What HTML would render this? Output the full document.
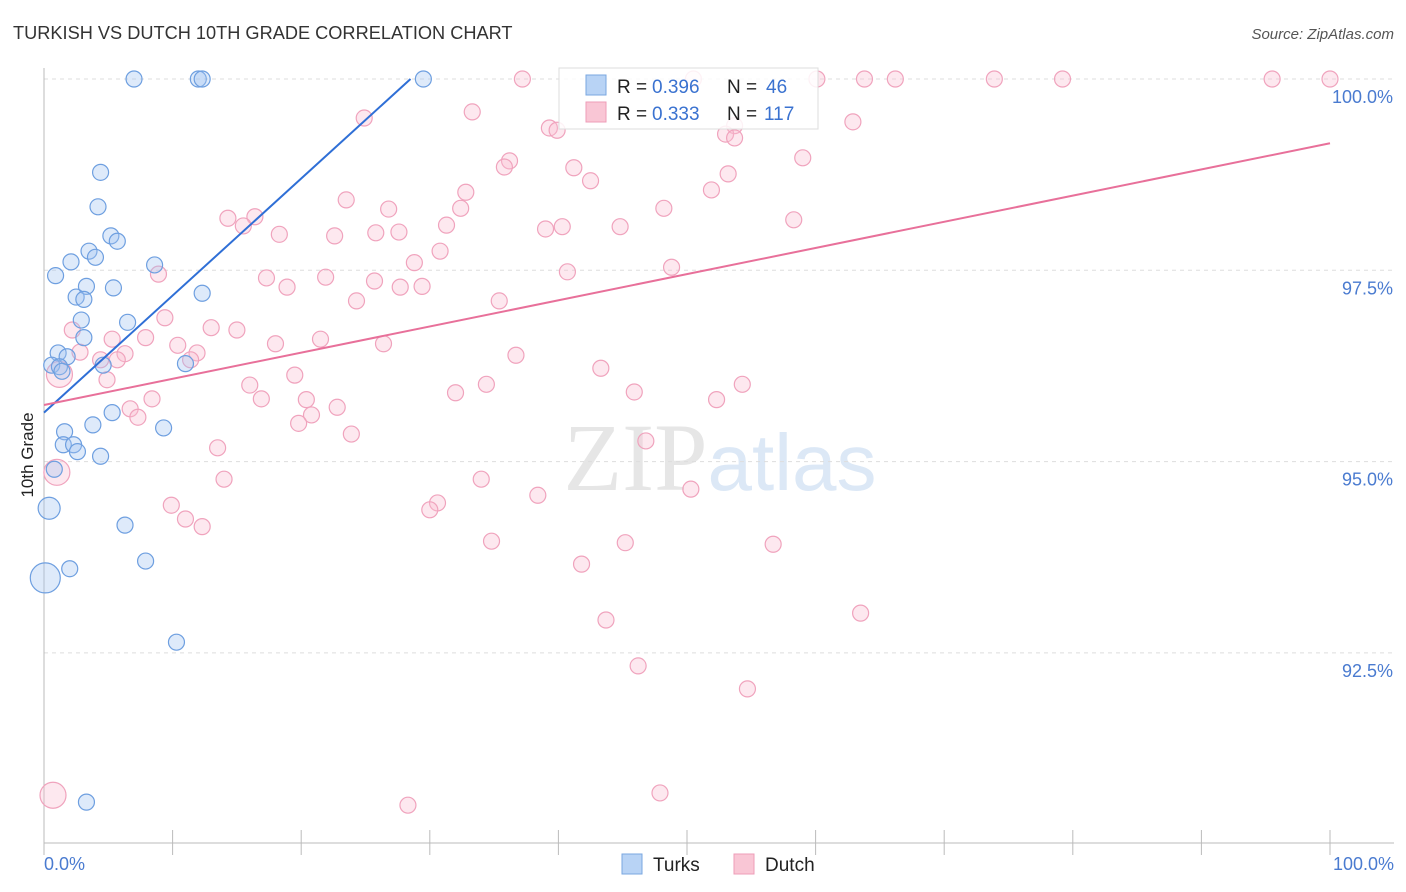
<!DOCTYPE html>
<html><head><meta charset="utf-8"><style>
body{margin:0;background:#fff;font-family:"Liberation Sans",sans-serif;}
</style></head><body>
<svg id="chart" width="1406" height="892" xmlns="http://www.w3.org/2000/svg" style="display:block">
<text x="13" y="39" font-size="18.2" fill="#333">TURKISH VS DUTCH 10TH GRADE CORRELATION CHART</text>
<text x="1394" y="39" font-size="15" fill="#555" text-anchor="end" font-style="italic">Source: ZipAtlas.com</text>
<text x="720" y="490" font-size="96" text-anchor="middle" fill="#e6e6e6" font-family="Liberation Serif,serif">ZIP<tspan fill="#dce8f6" font-family="Liberation Sans,sans-serif" font-size="80">atlas</tspan></text>
<g id="grid"></g><g id="marks"></g><g id="lines"></g>
<text transform="translate(33,455) rotate(-90)" font-size="17" fill="#222" text-anchor="middle">10th Grade</text>
<g>
<rect x="559" y="68" width="259" height="61" fill="#fff" fill-opacity="0.85" stroke="#ddd"/>
<rect x="586" y="75" width="20" height="20" fill="#b8d3f5" stroke="#7aa7e0"/>
<rect x="586" y="102" width="20" height="20" fill="#f9c6d5" stroke="#ee9db8"/>
<text x="617" y="93" font-size="19" fill="#222">R =</text>
<text x="652" y="93" font-size="19" fill="#3a72d0">0.396</text>
<text x="727" y="93" font-size="19" fill="#222">N =</text>
<text x="766" y="93" font-size="19" fill="#3a72d0">46</text>
<text x="617" y="120" font-size="19" fill="#222">R =</text>
<text x="652" y="120" font-size="19" fill="#3a72d0">0.333</text>
<text x="727" y="120" font-size="19" fill="#222">N =</text>
<text x="764" y="120" font-size="19" fill="#3a72d0">117</text>
</g>
<g>
<rect x="622" y="854" width="20" height="20" fill="#b8d3f5" stroke="#7aa7e0"/>
<text x="653" y="871" font-size="19" fill="#222">Turks</text>
<rect x="734" y="854" width="20" height="20" fill="#f9c6d5" stroke="#ee9db8"/>
<text x="765" y="871" font-size="19" fill="#222">Dutch</text>
</g>
</svg>
<script>
const yTicks=[100,97.5,95,92.5];
const yTickLabels=["100.0%","97.5%","95.0%","92.5%"];
const xTickLabels=["0.0%","100.0%"];
const turksX=[7.0,12.0,12.3,29.5,4.4,4.2,5.2,5.7,3.5,4.0,2.1,0.9,8.6,5.4,3.3,2.5,3.1,12.3,6.5,2.9,3.1,1.1,1.8,0.6,1.2,1.4,11.0,4.6,5.3,3.8,9.3,1.6,1.5,2.3,2.6,4.4,0.8,0.4,6.3,0.1,2.0,7.9,10.3,3.3];
const turksY=[100,100,100,100,98.78,98.33,97.95,97.88,97.75,97.67,97.61,97.43,97.57,97.27,97.29,97.15,97.12,97.20,96.82,96.85,96.62,96.42,96.37,96.26,96.24,96.18,96.28,96.26,95.64,95.48,95.44,95.39,95.22,95.22,95.13,95.07,94.90,94.39,94.17,93.48,93.60,93.70,92.64,90.55];
const turksR=[8,8,8,8,8,8,8,8,8,8,8,8,8,8,8,8,8,8,8,8,8,8,8,8,8,8,8,8,8,8,8,8,8,8,8,8,8,11,8,15,8,8,8,8];
const dutchX=[37.2,50.5,60.1,63.8,66.2,73.9,79.2,95.5,100,33.3,24.9,39.3,39.9,53.7,53.0,53.7,62.9,59.0,36.2,35.8,41.2,42.5,53.2,51.9,32.8,23.5,32.4,26.8,48.2,58.3,14.3,16.4,15.5,31.3,39.0,40.3,44.8,18.3,22.6,25.8,27.6,30.8,28.8,8.9,40.7,48.8,17.3,21.9,25.7,18.9,27.7,29.4,24.3,35.4,9.4,2.2,13.0,15.0,7.9,5.3,21.5,10.4,18.0,26.4,11.9,11.4,2.8,6.3,4.4,5.7,36.7,1.2,43.3,19.5,4.9,54.3,16.0,34.4,45.9,32.0,8.4,16.9,20.4,52.3,6.7,7.3,22.8,20.8,19.8,23.9,46.8,13.5,1.0,14.0,34.0,30.6,30.0,50.3,38.4,9.9,11.0,12.3,34.8,45.2,56.7,41.8,43.7,63.5,46.2,54.7,0.7,47.9,28.3];
const dutchY=[100,100,100,100,100,100,100,100,100,99.57,99.49,99.36,99.33,99.39,99.28,99.23,99.44,98.97,98.93,98.85,98.84,98.67,98.76,98.55,98.52,98.42,98.31,98.30,98.31,98.16,98.18,98.20,98.08,98.09,98.04,98.07,98.07,97.97,97.95,97.99,98.00,97.75,97.60,97.45,97.48,97.54,97.40,97.41,97.36,97.28,97.28,97.29,97.10,97.10,96.88,96.72,96.75,96.72,96.62,96.60,96.60,96.52,96.54,96.54,96.42,96.33,96.43,96.41,96.33,96.33,96.39,96.14,96.22,96.13,96.07,96.01,96.00,96.01,95.91,95.90,95.82,95.82,95.81,95.81,95.69,95.58,95.71,95.61,95.50,95.36,95.27,95.18,94.86,94.77,94.77,94.46,94.37,94.64,94.56,94.43,94.25,94.15,93.96,93.94,93.92,93.66,92.93,93.02,92.33,92.03,90.64,90.67,90.51];
const turksTrendX=[0,28.5];
const turksTrendY=[95.64,100];
const dutchTrendX=[0,100];
const dutchTrendY=[95.74,99.16];

const NS="http://www.w3.org/2000/svg";
const X=v=>44+v*12.86;
const Y=v=>79+(100-v)/2.5*191.3;
function mk(tag,attrs,parent){const e=document.createElementNS(NS,tag);for(const k in attrs)e.setAttribute(k,attrs[k]);parent.appendChild(e);return e;}
const grid=document.getElementById('grid'),marks=document.getElementById('marks'),lines=document.getElementById('lines');
yTicks.forEach((t,i)=>{
  const l=mk('line',{x1:44,x2:1394,y1:Y(t),y2:Y(t),stroke:'#ddd','stroke-dasharray':'4,4'},grid);
  
  
  const tx=mk('text',{x:1393,y:Y(t)+24,'font-size':18,fill:'#4a7bd0','text-anchor':'end'},grid);
  tx.textContent=yTickLabels[i];
  
  
});
const ya=mk('line',{x1:44,x2:44,y1:68,y2:843,stroke:'#bbb'},grid);


const xa=mk('line',{x1:44,x2:1394,y1:843,y2:843,stroke:'#bbb'},grid);


for(let i=0;i<=10;i++){
  const t=mk('line',{x1:X(i*10),x2:X(i*10),y1:830,y2:855,stroke:'#bbb'},grid);
  
  
}
[[0,'start',44],[100,'end',1394]].forEach((d,i)=>{
  const tx=mk('text',{x:d[2],y:870,'font-size':18,fill:'#4a7bd0','text-anchor':d[1]},grid);
  tx.textContent=xTickLabels[i];
  
  
});
dutchX.forEach((v,i)=>{
  const c=mk('circle',{cx:X(v),cy:Y(dutchY[i]),r:(v<1.5&&(dutchY[i]<91||dutchY[i]<95&&dutchY[i]>94.8||dutchY[i]>96&&dutchY[i]<96.2))?13:8,fill:'rgba(248,190,210,0.35)',stroke:'#f0a3bd','stroke-width':1.2},marks);
  
  
});
turksX.forEach((v,i)=>{
  const c=mk('circle',{cx:X(v),cy:Y(turksY[i]),r:turksR[i],fill:'rgba(160,195,240,0.35)',stroke:'#6e9fe0','stroke-width':1.2},marks);
  
  
});
const tl=mk('line',{x1:X(turksTrendX[0]),y1:Y(turksTrendY[0]),x2:X(turksTrendX[1]),y2:Y(turksTrendY[1]),stroke:'#2f6fd6','stroke-width':2},lines);


const dl=mk('line',{x1:X(dutchTrendX[0]),y1:Y(dutchTrendY[0]),x2:X(dutchTrendX[1]),y2:Y(dutchTrendY[1]),stroke:'#e8709a','stroke-width':2},lines);


</script>
</body></html>
